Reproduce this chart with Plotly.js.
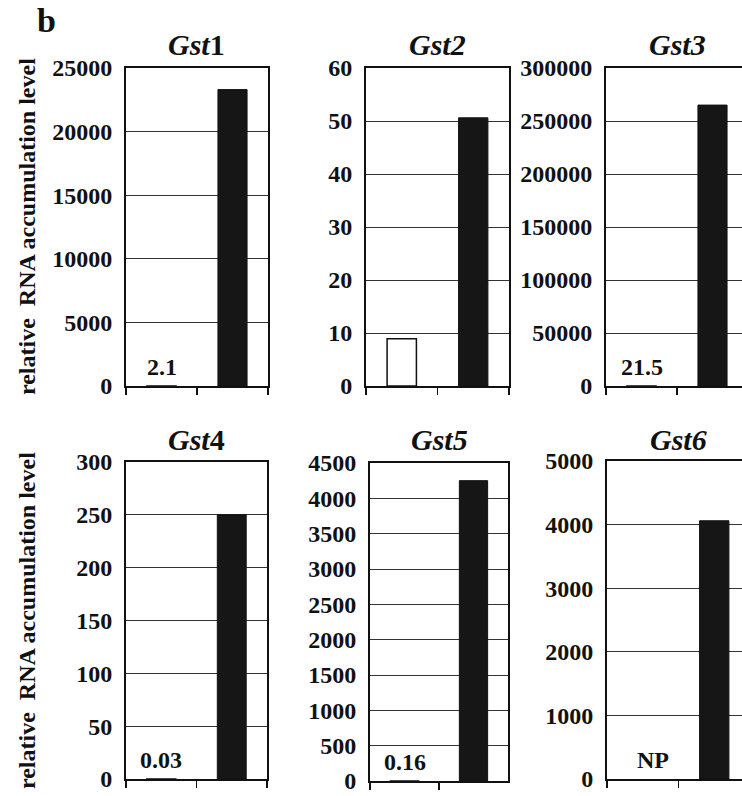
<!DOCTYPE html>
<html>
<head>
<meta charset="utf-8">
<script src="https://cdn.plot.ly/plotly-3.0.1.min.js"></script>
<style>
html, body { margin: 0; padding: 0; overflow: hidden; background: #fff; }
#chart { width: 760px; height: 796px; }
</style>
</head>
<body>
<div id="chart"></div>
<script>
// ---- data ----
const geneTitles = ["<i>Gst</i>1", "<i>Gst2</i>", "<i>Gst3</i>", "<i>Gst</i>4", "<i>Gst5</i>", "<i>Gst6</i>"];
const categories = ["control", "induced"];
const lowValues = [2.1, 8.9, 21.5, 0.03, 0.16, null];
const highValues = [23300, 50.6, 265000, 250, 4250, 4060];
const lowLabels = ["2.1", "", "21.5", "0.03", "0.16", "NP"];
const yMax = [25000, 60, 300000, 300, 4500, 5000];
const yStep = [5000, 10, 50000, 50, 500, 1000];
const yAxisTitle = "relative\u00a0\u00a0RNA accumulation level";
const panelLetter = "b";

// ---- layout geometry (pixels) ----
const W = 760, H = 796;
const xPix = [[126, 268], [366, 509], [606, 748], [126, 267], [370, 508], [607, 750]];
const yPix = [[68, 386], [68, 386], [68, 386], [462, 779], [463, 781], [461, 779]];
const FONT = "Liberation Serif, Times New Roman, serif";

const traces = [];
const layout = {
  width: W, height: H,
  margin: {l: 0, r: 0, t: 0, b: 0},
  paper_bgcolor: "#fff", plot_bgcolor: "#fff",
  showlegend: false,
  font: {family: FONT, color: "#111", size: 24},
  annotations: []
};

for (let i = 0; i < 6; i++) {
  const n = i + 1;
  const xa = "x" + (n === 1 ? "" : n), ya = "y" + (n === 1 ? "" : n);
  traces.push({
    type: "bar",
    x: categories,
    y: [lowValues[i], highValues[i]],
    xaxis: xa, yaxis: ya,
    width: 0.41,
    marker: {color: ["#ffffff", "#161616"], line: {color: "#111", width: [1.5, 1]}},
    hoverinfo: "skip"
  });
  const xk = "xaxis" + (n === 1 ? "" : n), yk = "yaxis" + (n === 1 ? "" : n);
  layout[xk] = {
    domain: [xPix[i][0] / W, xPix[i][1] / W],
    anchor: ya,
    type: "category",
    tickson: "boundaries",
    ticks: "outside", ticklen: 7, tickwidth: 1.5, tickcolor: "#111",
    showticklabels: false,
    showgrid: false,
    showline: true, linecolor: "#111", linewidth: 2, mirror: true,
    fixedrange: true
  };
  layout[yk] = {
    domain: [1 - yPix[i][1] / H, 1 - yPix[i][0] / H],
    anchor: xa,
    range: [0, yMax[i]],
    dtick: yStep[i], tick0: 0,
    tickformat: "d",
    tickfont: {family: FONT, size: 24, color: "#111", weight: "bold"},
    ticks: "", ticklabelstandoff: 7,
    showgrid: true, gridcolor: "#333", gridwidth: 1,
    zeroline: false,
    showline: true, linecolor: "#111", linewidth: 2, mirror: true,
    fixedrange: true
  };
  // small-value label
  if (lowLabels[i]) {
    layout.annotations.push({
      xref: xa, yref: ya, x: categories[0], y: 0,
      xanchor: "center", yanchor: "bottom", yshift: 4, xshift: (lowLabels[i] === "NP" ? 10 : 0),
      text: "<b>" + lowLabels[i] + "</b>", showarrow: false,
      font: {family: FONT, size: 24, color: "#111"}
    });
  }
  // panel title
  const titleY = i < 3 ? 45 : 439;
  layout.annotations.push({
    xref: "paper", yref: "paper",
    x: (xPix[i][0] + xPix[i][1]) / 2 / W, y: 1 - titleY / H,
    xanchor: "center", yanchor: "middle",
    text: "<b>" + geneTitles[i] + "</b>", showarrow: false,
    font: {family: FONT, size: 30, color: "#111"}
  });
}

// y-axis titles (rows)
[227, 621].forEach(function (cy) {
  layout.annotations.push({
    xref: "paper", yref: "paper", x: 27 / W, y: 1 - cy / H,
    xanchor: "center", yanchor: "middle", textangle: -90,
    text: "<b>" + yAxisTitle + "</b>", showarrow: false,
    font: {family: FONT, size: 24, color: "#111"}
  });
});

// panel letter
layout.annotations.push({
  xref: "paper", yref: "paper", x: 46 / W, y: 1 - 20 / H,
  xanchor: "center", yanchor: "middle",
  text: "<b>" + panelLetter + "</b>", showarrow: false,
  font: {family: FONT, size: 34, color: "#111"}
});

Plotly.newPlot("chart", traces, layout, {displayModeBar: false, staticPlot: true});
</script>
</body>
</html>
